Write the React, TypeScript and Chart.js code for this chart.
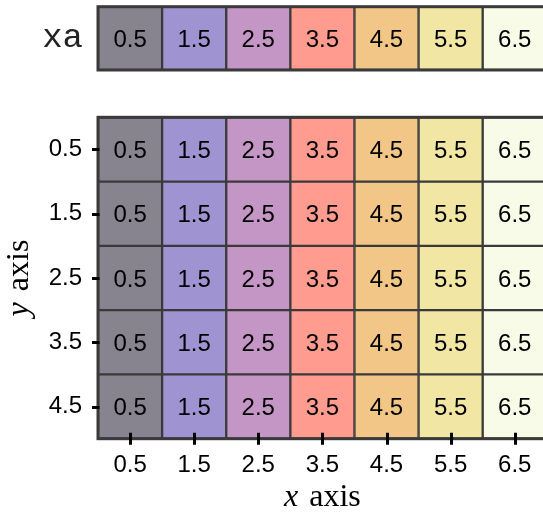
import React, { useEffect, useRef } from "react";
import { Chart, registerables } from "chart.js";
Chart.register(...registerables);

// ---- data ----
const xLabels = ["0.5", "1.5", "2.5", "3.5", "4.5", "5.5", "6.5"];
const xValues = [0.5, 1.5, 2.5, 3.5, 4.5, 5.5, 6.5];
const yLabels = ["0.5", "1.5", "2.5", "3.5", "4.5"];
const yValues = [0.5, 1.5, 2.5, 3.5, 4.5];
const topRowLabel = "xa";
const cellColors = ["#87838f", "#9f93d2", "#c496c6", "#ff9b8f", "#f2c687", "#f1e6a3", "#f9fbe9"];
const xTitleParts: [string, boolean][] = [["x", true], [" axis", false]];
const yTitleParts: [string, boolean][] = [["y", true], [" axis", false]];

const SANS = "'Liberation Sans', Arial, sans-serif";
const SERIF = "'Liberation Serif', 'Times New Roman', serif";
const MONO = "'Liberation Mono', 'Courier New', monospace";
const BORDER = "#3a3a3a";
const CANVAS_W = 600;
const PLOT_LEFT = 98;
const PLOT_RIGHT = 546.8;

const cellTextPlugin = {
  id: "cellText",
  afterDatasetsDraw(chart: any) {
    const ctx = chart.ctx;
    const area = chart.chartArea;
    ctx.save();
    ctx.strokeStyle = BORDER;
    ctx.lineWidth = 3;
    ctx.strokeRect(area.left, area.top, area.right - area.left, area.bottom - area.top);
    ctx.font = "24px " + SANS;
    ctx.fillStyle = "#000";
    ctx.textAlign = "center";
    ctx.textBaseline = "middle";
    chart.data.datasets.forEach((ds: any, di: number) => {
      const meta = chart.getDatasetMeta(di);
      meta.data.forEach((el: any, i: number) => {
        ctx.fillText(ds.cellValues[i].toFixed(1), el.x, (el.y + el.base) / 2 + 2);
      });
    });
    ctx.restore();
  },
};

function drawMixed(ctx: any, parts: [string, boolean][], size: number) {
  let total = 0;
  const widths = parts.map(([t, it]) => {
    ctx.font = (it ? "italic " : "") + size + "px " + SERIF;
    const w = ctx.measureText(t).width + (t.startsWith(" ") ? 3 : 0);
    total += w;
    return w;
  });
  let x = -total / 2;
  parts.forEach(([t, it], i) => {
    ctx.font = (it ? "italic " : "") + size + "px " + SERIF;
    ctx.fillText(t.trim(), x + (t.startsWith(" ") ? widths[i] - ctx.measureText(t.trim()).width : 0), 0);
    x += widths[i];
  });
}

const axesPlugin = {
  id: "axesDeco",
  afterDraw(chart: any) {
    const ctx = chart.ctx;
    const area = chart.chartArea;
    const xs = chart.scales.x;
    const ys = chart.scales.y;
    ctx.save();
    ctx.strokeStyle = "#000";
    ctx.lineWidth = 3;
    ctx.beginPath();
    xs.ticks.forEach((_: any, i: number) => {
      const px = Math.round(xs.getPixelForTick(i)) + 0.5;
      ctx.moveTo(px, area.bottom - 6);
      ctx.lineTo(px, area.bottom + 6);
    });
    ys.ticks.forEach((_: any, i: number) => {
      const py = Math.round(ys.getPixelForTick(i)) + 0.5;
      ctx.moveTo(area.left - 6, py);
      ctx.lineTo(area.left + 1.5, py);
    });
    ctx.stroke();
    ctx.fillStyle = "#000";
    ctx.textBaseline = "alphabetic";
    ctx.textAlign = "left";
    ctx.save();
    ctx.translate((area.left + area.right) / 2, area.bottom + 67);
    drawMixed(ctx, xTitleParts, 32);
    ctx.restore();
    ctx.save();
    ctx.translate(28, (area.top + area.bottom) / 2);
    ctx.rotate(-Math.PI / 2);
    drawMixed(ctx, yTitleParts, 32);
    ctx.restore();
    ctx.restore();
  },
};

export default function App() {
  const topRef = useRef<HTMLCanvasElement>(null);
  const mainRef = useRef<HTMLCanvasElement>(null);

  useEffect(() => {
    const topChart = new Chart(topRef.current!, {
      type: "bar",
      data: {
        labels: xLabels,
        datasets: [
          {
            data: xValues.map(() => [0, 1]),
            cellValues: xValues,
            backgroundColor: cellColors,
            borderColor: BORDER,
            borderWidth: 1.5,
            borderSkipped: false,
            barPercentage: 1,
            categoryPercentage: 1,
          } as any,
        ],
      },
      options: {
        responsive: false,
        maintainAspectRatio: false,
        devicePixelRatio: 1,
        animation: false,
        layout: { padding: { top: 6.7, bottom: 20, left: 0, right: CANVAS_W - PLOT_RIGHT } },
        plugins: { legend: { display: false }, tooltip: { enabled: false } },
        scales: {
          x: { type: "category", display: false, stacked: true },
          y: {
            type: "linear",
            min: 0,
            max: 1,
            afterBuildTicks: (s: any) => {
              s.ticks = [{ value: 0.5 }];
            },
            afterFit: (s: any) => {
              s.width = PLOT_LEFT;
              s.paddingTop = 0;
              s.paddingBottom = 0;
            },
            ticks: {
              callback: () => topRowLabel,
              font: { family: MONO, size: 34 },
              color: "#222",
              padding: 7,
            },
            grid: { drawOnChartArea: false, drawTicks: true, tickLength: 8, tickColor: "rgba(0,0,0,0)" },
            border: { display: false },
          },
        },
      },
      plugins: [cellTextPlugin],
    });

    const mainChart = new Chart(mainRef.current!, {
      type: "bar",
      data: {
        labels: xLabels,
        datasets: yValues.map((yv) => ({
          data: xValues.map(() => [yv - 0.5, yv + 0.5]),
          cellValues: xValues,
          backgroundColor: cellColors,
          borderColor: BORDER,
          borderWidth: 1.5,
          borderSkipped: false,
          barPercentage: 1,
          categoryPercentage: 1,
        })) as any,
      },
      options: {
        responsive: false,
        maintainAspectRatio: false,
        devicePixelRatio: 1,
        animation: false,
        layout: { padding: { top: 117.3, bottom: 0, left: 0, right: CANVAS_W - PLOT_RIGHT } },
        plugins: { legend: { display: false }, tooltip: { enabled: false } },
        scales: {
          x: {
            type: "category",
            stacked: true,
            afterFit: (s: any) => {
              s.height = 515 - 438.7;
              s.paddingLeft = 0;
              s.paddingRight = 0;
            },
            ticks: {
              font: { family: SANS, size: 24 },
              color: "#000",
              padding: 12,
              maxRotation: 0,
              autoSkip: false,
            },
            grid: { drawOnChartArea: false, drawTicks: false },
            border: { display: false },
          },
          y: {
            type: "linear",
            min: 0,
            max: 5,
            reverse: true,
            afterBuildTicks: (s: any) => {
              s.ticks = yValues.map((v) => ({ value: v }));
            },
            afterFit: (s: any) => {
              s.width = PLOT_LEFT;
              s.paddingTop = 0;
              s.paddingBottom = 0;
            },
            ticks: {
              callback: (_v: any, i: number) => yLabels[i],
              font: { family: SANS, size: 24 },
              color: "#000",
              padding: 8,
            },
            grid: { drawOnChartArea: false, drawTicks: true, tickLength: 8, tickColor: "rgba(0,0,0,0)" },
            border: { display: false },
          },
        },
      },
      plugins: [cellTextPlugin, axesPlugin],
    });

    return () => {
      topChart.destroy();
      mainChart.destroy();
    };
  }, []);

  return (
    <div
      style={{
        position: "fixed",
        left: 0,
        top: 0,
        width: 543,
        height: 515,
        overflow: "hidden",
        background: "#fff",
      }}
    >
      <canvas ref={mainRef} width={CANVAS_W} height={515} style={{ position: "absolute", left: 0, top: 0 }} />
      <canvas ref={topRef} width={CANVAS_W} height={90} style={{ position: "absolute", left: 0, top: 0 }} />
    </div>
  );
}
